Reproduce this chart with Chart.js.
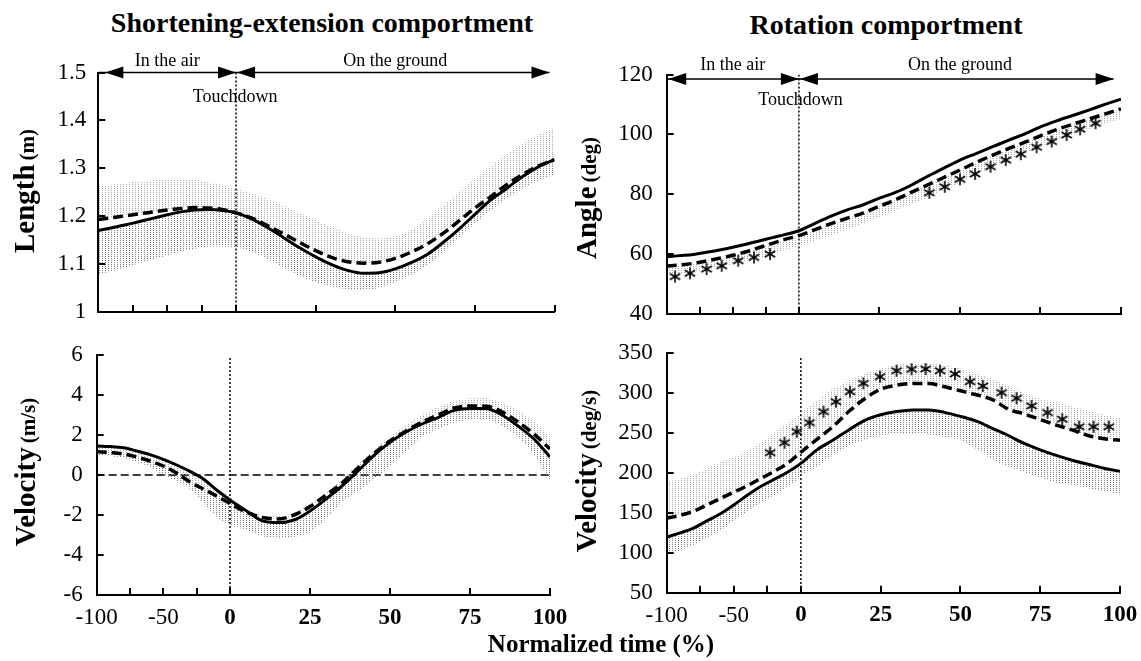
<!DOCTYPE html>
<html><head><meta charset="utf-8">
<script src="https://cdn.jsdelivr.net/npm/chart.js@4.4.0/dist/chart.umd.min.js"></script>
<style>
body{margin:0;background:#fff;width:1141px;height:661px;overflow:hidden;position:relative;font-family:'Liberation Serif','Times New Roman',serif;}
canvas{position:absolute;}
.t{position:absolute;white-space:nowrap;font-weight:bold;color:#000;transform:translate(-50%,-50%);line-height:1;}
.yt{position:absolute;white-space:nowrap;font-weight:bold;color:#000;transform:translate(-50%,-50%) rotate(-90deg);line-height:1;}
</style></head><body>
<canvas id="c1" width="570" height="290" style="left:0;top:40px"></canvas>
<canvas id="c2" width="571" height="290" style="left:570px;top:40px"></canvas>
<canvas id="c3" width="570" height="331" style="left:0;top:330px"></canvas>
<canvas id="c4" width="571" height="331" style="left:570px;top:330px"></canvas>
<div class="t" style="left:322px;top:23px;font-size:28px">Shortening-extension comportment</div>
<div class="t" style="left:886px;top:25px;font-size:28px">Rotation comportment</div>
<div class="t" style="left:601px;top:643px;font-size:25px">Normalized time (%)</div>
<div class="yt" style="left:24px;top:191px"><span style="font-size:29px">Length</span> <span style="font-size:21px">(m)</span></div>
<div class="yt" style="left:586px;top:198px"><span style="font-size:29px">Angle</span> <span style="font-size:21px">(deg)</span></div>
<div class="yt" style="left:25px;top:472px"><span style="font-size:29px">Velocity</span> <span style="font-size:21px">(m/s)</span></div>
<div class="yt" style="left:586px;top:471px"><span style="font-size:29px">Velocity</span> <span style="font-size:21px">(deg/s)</span></div>
<script>
const FONT = "'Liberation Serif','Times New Roman',serif";

// ---- data ----
const timePts = [-100,-90,-80,-70,-60,-50,-40,-30,-20,-10,0,5,10,15,20,25,30,35,40,45,50,55,60,65,70,75,80,85,90,95,100];
const xTickValues = [-100,-75,-50,-25,0,25,50,75,100];
const xTickLabels = ['-100','','-50','','0','25','50','75','100'];

// Length (m)
const lenSolid  = [1.170,1.176,1.182,1.189,1.196,1.203,1.209,1.213,1.214,1.212,1.207,1.194,1.176,1.155,1.134,1.115,1.099,1.087,1.081,1.082,1.090,1.103,1.120,1.145,1.173,1.204,1.234,1.258,1.283,1.303,1.318];
const lenDashed = [1.193,1.197,1.201,1.205,1.209,1.213,1.216,1.218,1.217,1.214,1.207,1.196,1.180,1.163,1.145,1.128,1.114,1.105,1.102,1.104,1.112,1.125,1.142,1.164,1.190,1.217,1.241,1.266,1.287,1.305,1.318];
const lenUpper  = [1.262,1.266,1.270,1.273,1.275,1.276,1.277,1.276,1.272,1.265,1.257,1.248,1.236,1.222,1.207,1.192,1.178,1.165,1.156,1.154,1.158,1.172,1.195,1.222,1.250,1.278,1.305,1.330,1.352,1.370,1.384];
const lenLower  = [1.078,1.085,1.093,1.102,1.110,1.118,1.126,1.132,1.136,1.137,1.135,1.125,1.110,1.092,1.075,1.062,1.053,1.047,1.046,1.050,1.062,1.078,1.098,1.125,1.155,1.185,1.212,1.237,1.258,1.275,1.287];

// Angle (deg)
const angSolid  = [59.1,59.5,59.9,60.6,61.4,62.3,63.3,64.4,65.5,66.6,67.8,70.3,72.7,74.8,76.5,78.7,80.6,83.1,86.0,88.7,91.4,93.6,95.8,98.0,100.1,102.5,104.5,106.3,108.1,110.0,111.8];
const angDashed = [56.0,56.4,56.9,57.7,58.6,59.6,60.8,62.2,63.6,65.0,66.2,68.2,70.2,72.0,73.8,76.0,78.2,80.7,83.1,85.6,88.1,90.6,93.0,95.2,97.3,99.5,101.6,103.4,105.1,106.8,108.5];
const angLower  = [53.0,53.5,54.0,54.8,55.7,56.7,57.8,58.6,60.0,61.5,62.6,64.5,66.3,68.2,70.2,72.5,74.6,76.8,79.0,81.4,84.0,86.5,89.0,91.3,93.6,95.8,97.8,99.8,101.7,103.5,105.3];
const angStarX  = [-93.7,-82.4,-69.8,-58.4,-45.9,-34,-21.9,40.5,45.3,50,54.7,59.5,64.2,68.9,73.8,78.5,83.1,87.3,92.1];
const angStarY  = [52.5,53.6,55,56.1,57.8,58.9,60,80.5,82.5,85,86.8,89.2,91.4,93.4,95.7,97.6,99.8,101.7,103.7];

// Velocity (m/s)
const velSolid  = [1.45,1.42,1.36,1.20,1.02,0.78,0.50,0.18,-0.20,-0.75,-1.25,-1.78,-2.28,-2.38,-2.25,-1.80,-1.20,-0.55,0.20,0.98,1.63,2.15,2.55,2.87,3.23,3.33,3.32,3.00,2.45,1.80,0.90];
const velDashed = [1.17,1.12,1.05,0.90,0.70,0.45,0.10,-0.35,-0.70,-1.05,-1.42,-1.85,-2.12,-2.20,-2.00,-1.58,-1.00,-0.40,0.35,1.08,1.70,2.20,2.65,3.00,3.35,3.45,3.44,3.16,2.65,2.05,1.30];
const velUpper  = [1.52,1.50,1.42,1.30,1.10,0.85,0.55,0.20,-0.20,-0.60,-1.10,-1.70,-2.00,-2.05,-1.90,-1.45,-0.90,-0.20,0.55,1.25,1.90,2.50,3.00,3.40,3.70,3.83,3.85,3.60,3.25,2.70,1.90];
const velLower  = [1.00,0.95,0.85,0.65,0.40,0.00,-0.30,-0.70,-1.40,-2.10,-2.50,-2.75,-3.05,-3.17,-3.10,-2.85,-2.20,-1.35,-0.80,-0.20,0.45,1.20,1.90,2.30,2.60,2.75,2.75,2.45,1.90,1.00,-0.25];

// Velocity (deg/s)
const rvSolid  = [119.6,125,131,140,149,160,172,183,192,201,212,229,241,254,266,273,277,279,279,276,271,265,256,247,237,229,222,216,211,206,202];
const rvDashed = [143.3,147,152,160,168,176,184,193,202,212,226,242,258,277,293,305,310,312,312,308,303,298,292,280,274,267,260,254,247,243,241];
const rvUpper  = [189,193,198,206,214,220,228,238,250,263,275,291,305,316,325,331,336,338,338,335,331,325,318,309,300,293,289,284,278,273,269];
const rvLower  = [99.5,102,110,119,128,140,152,162,172,182,195.5,208,222,234,242,246,250,250,248,245,241,230,217,208,201,194,188,185,181,177,173];
const rvStarX  = [-22.9,-12.2,-3,2.7,7.1,11,15.4,19.6,24.8,30,34.7,39.1,43.6,48.3,53,57,62.9,67.6,72.3,77.3,81.9,87.2,91.7,96.5];
const rvStarY  = [225.5,238,251.8,263.1,276.9,289.4,301.9,312.4,320.7,328.2,330,330.3,328.2,324.1,314.5,309.1,300.7,293.7,284.1,275.7,267.4,258,258,258];

// ---- piecewise time scale (air phase compressed) ----
class PiecewiseScale extends Chart.LinearScale {
  getPixelForValue(value) {
    const s = this.options.split;
    let d;
    if (value <= 0) d = (value - this.min) / (0 - this.min) * s;
    else d = s + (value / this.max) * (1 - s);
    return this.getPixelForDecimal(d);
  }
  getValueForPixel(pixel) {
    const d = this.getDecimalForPixel(pixel);
    const s = this.options.split;
    return d <= s ? this.min + d / s * (0 - this.min) : (d - s) / (1 - s) * this.max;
  }
}
PiecewiseScale.id = 'piecewise';
PiecewiseScale.defaults = Chart.LinearScale.defaults;
Chart.register(PiecewiseScale);

const pts = (xs, ys) => xs.map((x, i) => ({x, y: ys[i]}));

function tile(color) {
  const c = document.createElement('canvas'); c.width = 3; c.height = 2;
  const g = c.getContext('2d'); g.fillStyle = color; g.fillRect(0, 0, 1, 1);
  return c;
}
function asteriskImg() {
  const c = document.createElement('canvas'); c.width = 16; c.height = 16;
  const g = c.getContext('2d'); g.strokeStyle = '#000'; g.lineWidth = 1.6;
  const r = 6;
  for (const a of [90, 30, 150]) {
    const rad = a * Math.PI / 180;
    g.beginPath(); g.moveTo(8 - r * Math.cos(rad), 8 - r * Math.sin(rad));
    g.lineTo(8 + r * Math.cos(rad), 8 + r * Math.sin(rad)); g.stroke();
  }
  return c;
}
const STAR = asteriskImg();

const inTicks = {
  id: 'inTicks',
  afterDraw(chart) {
    const {ctx, chartArea: a} = chart;
    const xs = chart.scales.x, ys = chart.scales.y;
    ctx.save(); ctx.strokeStyle = '#000'; ctx.lineWidth = 2; ctx.beginPath();
    xs.ticks.forEach(t => { const p = Math.round(xs.getPixelForValue(t.value)); ctx.moveTo(p, a.bottom); ctx.lineTo(p, a.bottom - 7); });
    ys.ticks.forEach(t => { const p = Math.round(ys.getPixelForValue(t.value)); ctx.moveTo(a.left, p); ctx.lineTo(a.left + 7, p); });
    ctx.stroke(); ctx.restore();
  }
};

function arrowPlugin(o) {
  return {
    id: 'phaseArrows',
    afterDraw(chart) {
      const {ctx, chartArea: a} = chart;
      const xs = chart.scales.x;
      const y = a.top + o.lineDy;
      const x0 = xs.getPixelForValue(-100), xm = xs.getPixelForValue(0), x1 = xs.getPixelForValue(100);
      const L = 18, H = 6;
      ctx.save();
      ctx.strokeStyle = '#000'; ctx.fillStyle = '#000'; ctx.lineWidth = 1.5;
      ctx.beginPath(); ctx.moveTo(x0, y); ctx.lineTo(x1 - o.rightInset, y); ctx.stroke();
      const head = (tip, dir) => { ctx.beginPath(); ctx.moveTo(tip, y); ctx.lineTo(tip + dir * L, y - H); ctx.lineTo(tip + dir * L, y + H); ctx.closePath(); ctx.fill(); };
      head(x0 + o.leftInset, 1); head(xm, -1); head(xm + 1, 1); head(x1 - o.rightInset, -1);
      ctx.font = '18px ' + FONT; ctx.textAlign = 'center'; ctx.textBaseline = 'middle';
      ctx.fillText('In the air', (x0 + xm) / 2, y + o.textDy);
      ctx.fillText('On the ground', (xm + x1) / 2, y + o.textDy);
      ctx.fillText('Touchdown', xm + o.tdDx, y + o.tdDy);
      ctx.restore();
    }
  };
}

function makePanel(id, c) {
  const canvas = document.getElementById(id);
  const ctx = canvas.getContext('2d');
  const light = ctx.createPattern(tile('#a8a8a8'), 'repeat');
  const dark = ctx.createPattern(tile('#7c7c7c'), 'repeat');
  const datasets = [
    {data: c.stars ? pts(c.stars[0], c.stars[1]) : [], showLine: false, pointStyle: STAR, pointRadius: 6, borderWidth: 0},
    {data: pts(timePts, c.solid), borderColor: '#000', borderWidth: 3, fill: false},
    {data: pts(timePts, c.dashed), borderColor: '#000', borderWidth: 3.5, borderDash: [10, 5], fill: false},
    c.upper ? {data: pts(timePts, c.upper), borderWidth: 0, borderColor: 'rgba(0,0,0,0)', fill: 2, backgroundColor: light} : {data: []},
    c.lower ? {data: pts(timePts, c.lower), borderWidth: 0, borderColor: 'rgba(0,0,0,0)', fill: c.lowerTarget, backgroundColor: c.lowerTarget === 2 ? light : dark} : {data: []},
    {data: [{x: 0, y: c.tdTop}, {x: 0, y: c.yMin}], borderColor: '#000', borderWidth: 1.5, borderDash: [2, 2], fill: false, cubicInterpolationMode: 'default', tension: 0}
  ];
  if (c.zeroLine) datasets.push({data: [{x: -100, y: 0}, {x: 100, y: 0}], borderColor: '#000', borderWidth: 1.5, borderDash: [8, 4], fill: false, tension: 0});
  const plugins = [inTicks];
  if (c.arrows) plugins.push(arrowPlugin(c.arrows));
  return new Chart(ctx, {
    type: 'line',
    data: {datasets},
    plugins,
    options: {
      responsive: false, animation: false, events: [],
      layout: {padding: {top: c.padTop, right: c.padRight, left: 0, bottom: 0}},
      plugins: {legend: {display: false}, tooltip: {enabled: false}},
      elements: {point: {radius: 0}, line: {cubicInterpolationMode: 'monotone'}},
      scales: {
        x: {
          type: 'piecewise', split: c.split, min: -100, max: 100, position: 'bottom',
          grid: {display: false, drawTicks: false},
          border: {display: true, color: '#000', width: 2},
          afterBuildTicks: s => { s.ticks = xTickValues.map(v => ({value: v})); },
          afterFit: s => { s.height = c.xH; s.paddingLeft = 0; s.paddingRight = 0; },
          ticks: {
            display: c.xLabels, padding: 9, color: '#000', maxRotation: 0, autoSkip: false,
            callback: v => xTickLabels[xTickValues.indexOf(v)] ?? '',
            font: t => ({family: FONT, size: 23, weight: (t.tick && t.tick.value >= 0) ? 'bold' : 'normal'})
          }
        },
        y: {
          min: c.yMin, max: c.yMax,
          grid: {display: false, drawTicks: false},
          border: {display: true, color: '#000', width: 2},
          afterFit: s => { s.width = c.yW; s.paddingTop = 0; s.paddingBottom = 0; },
          ticks: {stepSize: c.step, padding: c.yPad, color: '#000', font: {family: FONT, size: 23},
                  callback: v => String(Math.round(v * 10) / 10)}
        }
      }
    }
  });
}

makePanel('c1', {
  solid: lenSolid, dashed: lenDashed, upper: lenUpper, lower: lenLower, lowerTarget: 1,
  yMin: 1, yMax: 1.5, step: 0.1, tdTop: 1.5,
  split: 0.302, padTop: 32.5, padRight: 15.5, yW: 98.3, xH: 18, xLabels: false, yPad: 12,
  arrows: {lineDy: 0, textDy: -11, tdDy: 25, tdDx: -1, leftInset: 7, rightInset: 5}
});
makePanel('c2', {
  solid: angSolid, dashed: angDashed, lower: angLower, lowerTarget: 2, stars: [angStarX, angStarY],
  yMin: 40, yMax: 120, step: 20, tdTop: 120,
  split: 0.291, padTop: 34.5, padRight: 20, yW: 96.7, xH: 16, xLabels: false, yPad: 14,
  arrows: {lineDy: 4.5, textDy: -14, tdDy: 21, tdDx: 1.6, leftInset: 1.5, rightInset: 7.4}
});
makePanel('c3', {
  solid: velSolid, dashed: velDashed, upper: velUpper, lower: velLower, lowerTarget: 1, zeroLine: true,
  yMin: -6, yMax: 6, step: 2, tdTop: 5.85,
  split: 0.294, padTop: 25, padRight: 20, yW: 96.7, xH: 66, xLabels: true, yPad: 14
});
makePanel('c4', {
  solid: rvSolid, dashed: rvDashed, upper: rvUpper, lower: rvLower, lowerTarget: 1, stars: [rvStarX, rvStarY],
  yMin: 50, yMax: 350, step: 50, tdTop: 344,
  split: 0.296, padTop: 23.3, padRight: 21, yW: 96.7, xH: 68.3, xLabels: true, yPad: 14
});
</script>
</body></html>
